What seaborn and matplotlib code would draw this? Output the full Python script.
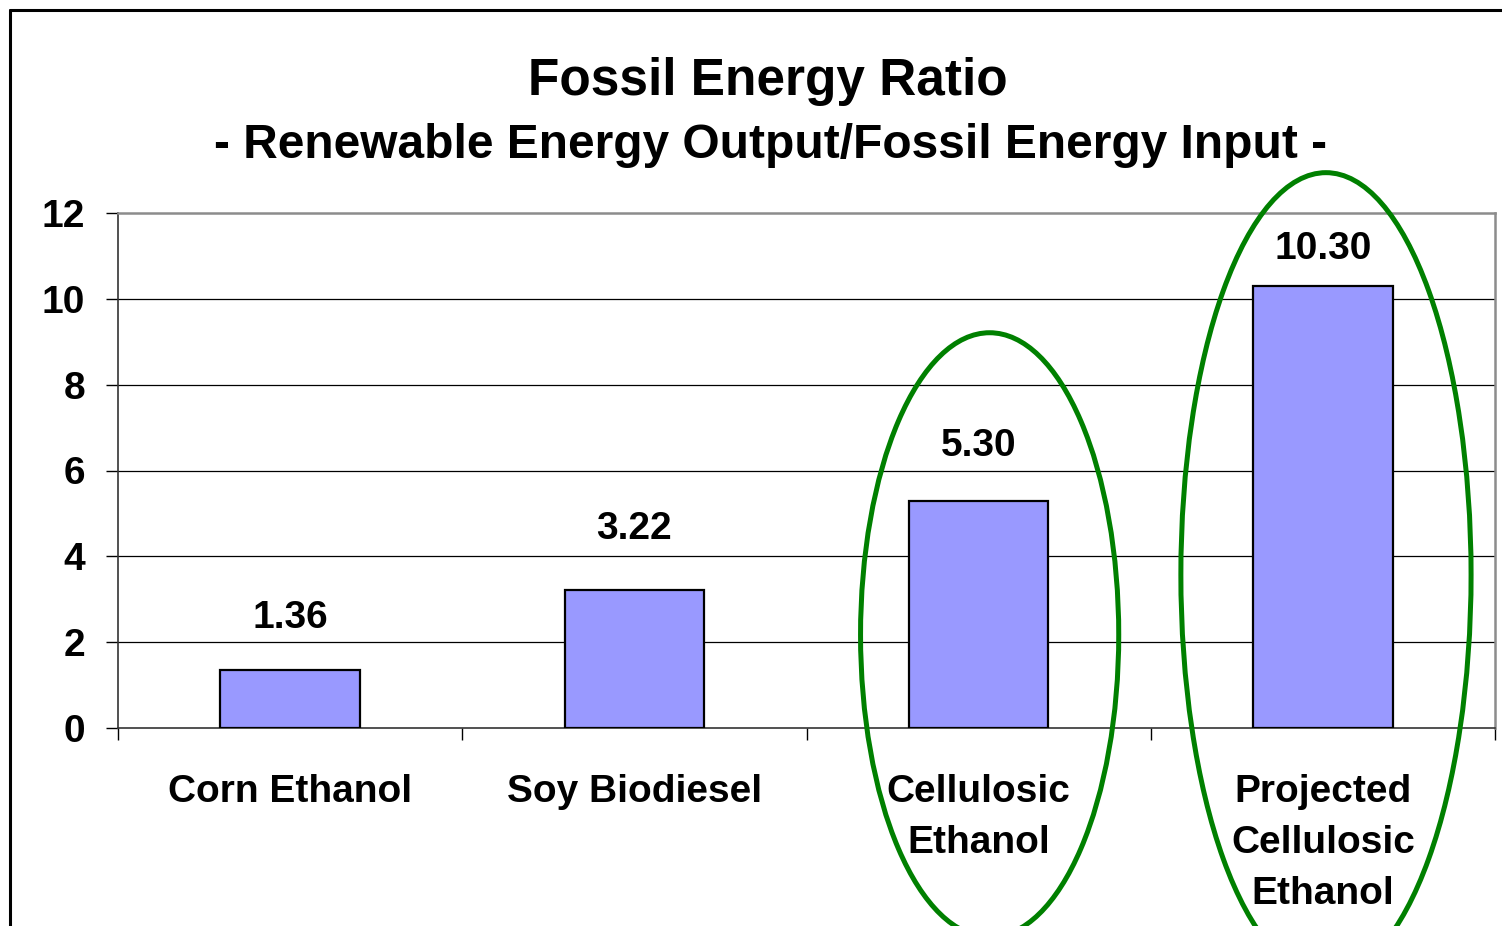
import matplotlib
matplotlib.use("Agg")
import matplotlib.pyplot as plt
from matplotlib.patches import Ellipse
from matplotlib.lines import Line2D
import seaborn as sns
import pandas as pd

categories = ["Corn Ethanol", "Soy Biodiesel", "Cellulosic\nEthanol", "Projected\nCellulosic\nEthanol"]
values = [1.36, 3.22, 5.30, 10.30]
value_labels = ["1.36", "3.22", "5.30", "10.30"]
y_ticks = [0, 2, 4, 6, 8, 10, 12]

sns.set_theme(style="white")
plt.rcParams["font.family"] = ["Liberation Sans", "DejaVu Sans"]
plt.rcParams["font.weight"] = "bold"
plt.rcParams["text.color"] = "black"
plt.rcParams["xtick.color"] = "black"
plt.rcParams["ytick.color"] = "black"

fig = plt.figure(figsize=(15.02, 9.26), dpi=100)
ax = fig.add_axes([118 / 1502, 1 - 728 / 926, (1495 - 118) / 1502, (728 - 213) / 926])

df = pd.DataFrame({"cat": categories, "val": values})
sns.barplot(data=df, x="cat", y="val", ax=ax, color="#9999FF", saturation=1,
            width=0.405, edgecolor="black", linewidth=1.6, zorder=3)

ax.set_ylim(0, 12)
ax.set_xlim(-0.5, 3.5)
ax.set_yticks(y_ticks)
ax.set_yticklabels([str(t) for t in y_ticks], fontsize=28, fontweight="bold", color="black")
ax.set_xticks(range(len(categories)))
ax.set_xticklabels(categories, fontsize=28, fontweight="bold", linespacing=1.53, color="black")
ax.set_xticks([-0.5, 0.5, 1.5, 2.5, 3.5], minor=True)
ax.set_xlabel("")
ax.set_ylabel("")

ax.tick_params(axis="x", which="major", length=0, pad=33)
ax.tick_params(axis="x", which="minor", length=8.6, width=1, color="black", direction="out", bottom=True)
ax.tick_params(axis="y", which="major", length=8.6, width=1, color="black", direction="out", left=True, pad=15)

for y in y_ticks[1:-1]:
    ax.axhline(y, color="black", linewidth=0.9, zorder=1)

for side in ["top", "right"]:
    ax.spines[side].set_color("#8c8c8c")
    ax.spines[side].set_linewidth(1.8)
for side in ["left", "bottom"]:
    ax.spines[side].set_color("#333333")
    ax.spines[side].set_linewidth(1.2)

label_offsets = [52, 61, 55, 37]  # px above bar top (label centre)
for i, (v, lab) in enumerate(zip(values, value_labels)):
    ax.annotate(lab, xy=(i, v), xytext=(0, label_offsets[i] * 0.72), textcoords="offset points",
                ha="center", va="center", fontsize=28, fontweight="bold", color="black",
                annotation_clip=False)

# highlight ellipses
ax.add_patch(Ellipse((2.032, 2.17), 0.75, 14.08, fill=False, edgecolor="#008000",
                     linewidth=3.6, clip_on=False, zorder=5))
ax.add_patch(Ellipse((3.009, 3.57), 0.843, 18.74, fill=False, edgecolor="#008000",
                     linewidth=3.6, clip_on=False, zorder=5))

fig.text(0.511, 1 - 81 / 926, "Fossil Energy Ratio", ha="center", va="center",
         fontsize=37, fontweight="bold", color="black")
fig.text(0.513, 1 - 146 / 926, "- Renewable Energy Output/Fossil Energy Input -", ha="center",
         va="center", fontsize=34.5, fontweight="bold", color="black")

# outer frame
fig.add_artist(Line2D([10 / 1502, 10 / 1502], [0, 1 - 10 / 926], color="black", linewidth=2.2,
                      transform=fig.transFigure))
fig.add_artist(Line2D([10 / 1502, 1.0], [1 - 10 / 926, 1 - 10 / 926], color="black", linewidth=2.2,
                      transform=fig.transFigure))

fig.savefig("out.png", dpi=100)
